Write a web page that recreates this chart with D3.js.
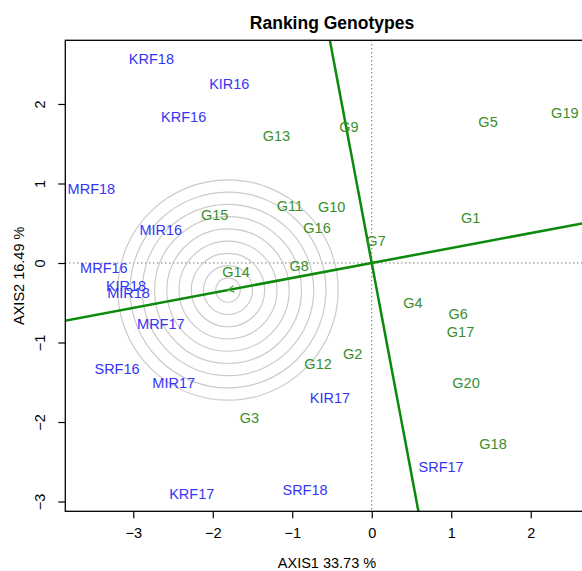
<!DOCTYPE html>
<html lang="en">
<head>
<meta charset="UTF-8">
<title>Ranking Genotypes</title>
<script src="https://d3js.org/d3.v7.min.js"></script>
<style>
  body { margin: 0; background: #fff; }
  text { font-family: "Liberation Sans", Arial, sans-serif; }
</style>
</head>
<body>
<svg id="chart" width="582" height="571"></svg>
<script>
// genotype scores (AXIS1, AXIS2)
var genotypes = ["G1","G2","G3","G4","G5","G6","G7","G8","G9","G10",
                 "G11","G12","G13","G14","G15","G16","G17","G18","G19","G20"];
var genoX = [1.243,-0.239,-1.540,0.519,1.463,1.086,0.054,-0.914,-0.286,-0.503,
             -1.028,-0.675,-1.199,-1.707,-1.975,-0.688,1.117,1.526,2.429,1.186];
var genoY = [0.566,-1.145,-1.950,-0.503,1.777,-0.642,0.281,-0.034,1.711,0.704,
             0.717,-1.270,1.601,-0.113,0.604,0.440,-0.864,-2.277,1.891,-1.506];

// environment scores
var envs = ["KRF16","KRF17","KRF18","KIR16","KIR17","KIR18","MRF16","MRF17",
            "MRF18","MIR16","MIR17","MIR18","SRF16","SRF17","SRF18"];
var envX = [-2.366,-2.264,-2.772,-1.792,-0.525,-3.091,-3.370,-2.653,
            -3.527,-2.654,-2.491,-3.059,-3.204,0.872,-0.839];
var envY = [1.840,-2.906,2.566,2.252,-1.694,-0.289,-0.063,-0.767,
            0.931,0.415,-1.509,-0.377,-1.333,-2.566,-2.855];

// ideal point on the AEC axis and its rings
var ideal = [-1.808, -0.340];
var ringRadii = [0.154,0.308,0.462,0.616,0.770,0.924,1.078,1.232,1.386];

var xTicks = [-3,-2,-1,0,1,2];
var yTicks = [-3,-2,-1,0,1,2];

var svg = d3.select("#chart");
var x = d3.scaleLinear().domain([-3.855, 2.796]).range([65.3, 594]);
var y = d3.scaleLinear().domain([-3.123, 2.801]).range([511.3, 40.3]);
var unit = x(1) - x(0);

var blue = "#3535f5", green = "#3a8f2c", lineGreen = "#0b8a0b";

svg.append("defs").append("clipPath").attr("id", "plotclip")
  .append("rect")
    .attr("x", x.range()[0]).attr("y", y.range()[1])
    .attr("width", x.range()[1] - x.range()[0])
    .attr("height", y.range()[0] - y.range()[1]);

var plot = svg.append("g").attr("clip-path", "url(#plotclip)");

// dotted reference axes
plot.append("line")
  .attr("x1", x(0)).attr("x2", x(0))
  .attr("y1", y.range()[1]).attr("y2", y.range()[0])
  .attr("stroke", "#333").attr("stroke-dasharray", "1,3");
plot.append("line")
  .attr("x1", x.range()[0]).attr("x2", x.range()[1])
  .attr("y1", y(0)).attr("y2", y(0))
  .attr("stroke", "#333").attr("stroke-dasharray", "1,3");

// concentric rings
plot.selectAll(".ring")
  .data(ringRadii)
  .enter().append("circle")
    .attr("class", "ring")
    .attr("cx", x(ideal[0])).attr("cy", y(ideal[1]))
    .attr("r", function(d) { return d * unit; })
    .attr("fill", "none")
    .attr("stroke", "#cbcbcb").attr("stroke-width", 1.2);

// AEC axis and its perpendicular through the origin
var k = 10;
plot.append("line")
  .attr("x1", x(-k * ideal[0])).attr("y1", y(-k * ideal[1]))
  .attr("x2", x(k * ideal[0])).attr("y2", y(k * ideal[1]))
  .attr("stroke", lineGreen).attr("stroke-width", 2.5);
plot.append("line")
  .attr("x1", x(-k * ideal[1])).attr("y1", y(k * ideal[0]))
  .attr("x2", x(k * ideal[1])).attr("y2", y(-k * ideal[0]))
  .attr("stroke", lineGreen).attr("stroke-width", 2.5);

// little arrow head at the ideal point
var ang = Math.atan2(-(y(ideal[1]) - y(0)), x(ideal[0]) - x(0));
var hx = x(ideal[0]), hy = y(ideal[1]), hl = 7;
plot.append("path")
  .attr("d", "M" + (hx - hl * Math.cos(ang - 0.5)) + "," + (hy + hl * Math.sin(ang - 0.5)) +
             "L" + hx + "," + hy +
             "L" + (hx - hl * Math.cos(ang + 0.5)) + "," + (hy + hl * Math.sin(ang + 0.5)))
  .attr("fill", "none").attr("stroke", "#5aa04a").attr("stroke-width", 1.2);

// labels
plot.selectAll(".geno")
  .data(genotypes)
  .enter().append("text")
    .attr("class", "geno")
    .attr("x", function(d, i) { return x(genoX[i]); })
    .attr("y", function(d, i) { return y(genoY[i]); })
    .attr("dy", "0.36em")
    .attr("text-anchor", "middle")
    .attr("font-size", "14.5px")
    .attr("fill", green)
    .text(function(d) { return d; });

plot.selectAll(".env")
  .data(envs)
  .enter().append("text")
    .attr("class", "env")
    .attr("x", function(d, i) { return x(envX[i]); })
    .attr("y", function(d, i) { return y(envY[i]); })
    .attr("dy", "0.36em")
    .attr("text-anchor", "middle")
    .attr("font-size", "14.5px")
    .attr("fill", blue)
    .text(function(d) { return d; });

// frame
svg.append("rect")
  .attr("x", x.range()[0]).attr("y", y.range()[1])
  .attr("width", x.range()[1] - x.range()[0])
  .attr("height", y.range()[0] - y.range()[1])
  .attr("fill", "none").attr("stroke", "#000").attr("stroke-width", 1.3);

// axes
var fmt = function(d) { return d < 0 ? "\u2212" + Math.abs(d) : d; };
var xAxis = svg.append("g")
  .attr("transform", "translate(0," + y.range()[0] + ")")
  .call(d3.axisBottom(x).tickValues(xTicks).tickSize(7).tickPadding(9).tickFormat(fmt));
var yAxis = svg.append("g")
  .attr("transform", "translate(" + x.range()[0] + ",0)")
  .call(d3.axisLeft(y).tickValues(yTicks).tickSize(7).tickPadding(6).tickFormat(fmt));
[xAxis, yAxis].forEach(function(a) {
  a.select(".domain").remove();
  a.selectAll("line").attr("stroke", "#000").attr("stroke-width", 1.2);
  a.selectAll("text").attr("font-size", "14.5px").attr("fill", "#000")
    .attr("font-family", "Liberation Sans, Arial, sans-serif");
});
// R style: y tick labels parallel to the axis
yAxis.selectAll(".tick text")
  .attr("x", 0).attr("y", 0).attr("dy", null)
  .attr("text-anchor", "middle")
  .attr("dominant-baseline", "central")
  .attr("transform", "translate(-25,0) rotate(-90)");

// titles
svg.append("text")
  .attr("x", 332).attr("y", 29)
  .attr("text-anchor", "middle")
  .attr("font-size", "17.5px").attr("font-weight", "bold")
  .text("Ranking Genotypes");
svg.append("text")
  .attr("x", 327).attr("y", 568)
  .attr("text-anchor", "middle")
  .attr("font-size", "14.5px")
  .text("AXIS1 33.73 %");
svg.append("text")
  .attr("transform", "translate(24," + (y.range()[0] + y.range()[1]) / 2 + ") rotate(-90)")
  .attr("text-anchor", "middle")
  .attr("font-size", "14.5px")
  .text("AXIS2 16.49 %");
</script>
</body>
</html>
